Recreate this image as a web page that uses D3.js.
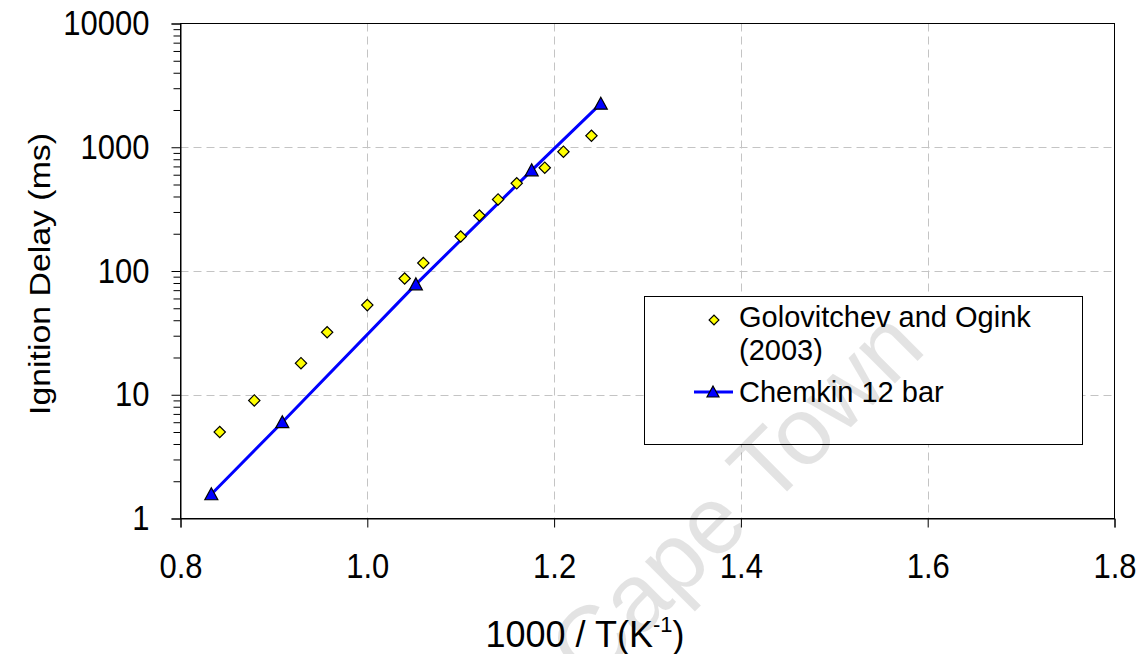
<!DOCTYPE html>
<html>
<head>
<meta charset="utf-8">
<script src="https://cdn.jsdelivr.net/npm/d3@7"></script>
<style>
  body { margin: 0; background: #fff; }
  svg { display: block; font-family: "Liberation Sans", Arial, sans-serif; }
</style>
</head>
<body>
<svg id="chart" width="1143" height="654"></svg>
<script>
// Golovitchev and Ogink (2003) measurements
const golovX = [0.842, 0.879, 0.929, 0.957, 1.000, 1.040, 1.060, 1.100, 1.120, 1.140, 1.160, 1.190, 1.210, 1.240];
const golovY = [5.0, 9.0, 18, 32, 53, 87, 116, 190, 281, 379, 511, 684, 921, 1240];

// Chemkin 12 bar simulation
const chemX = [0.833, 0.909, 1.052, 1.176, 1.250];
const chemY = [1.57, 6.0, 78, 651, 2250];

// axis ticks
const xTicks = [0.8, 1.0, 1.2, 1.4, 1.6, 1.8];
const yTicks = [1, 10, 100, 1000, 10000];
const legendLabels = [["Golovitchev and Ogink", "(2003)"], ["Chemkin 12 bar"]];

const svg = d3.select("#chart");

const x = d3.scaleLinear().domain([0.8, 1.8]).range([180.5, 1114.5]);
const y = d3.scaleLog().domain([1, 10000]).range([518.5, 23.5]);

// minor log ticks 2..9 in each decade
const yMinor = [];
for (let k = 0; k < 4; k++) for (let m = 2; m <= 9; m++) yMinor.push(m * Math.pow(10, k));

// grid
const grid = svg.append("g").attr("stroke", "#c4c4c4").attr("stroke-dasharray", "8,5").attr("stroke-width", 1);
grid.selectAll(".gx").data(xTicks.slice(1, -1)).join("line")
  .attr("x1", d => Math.round(x(d)) + 0.5).attr("x2", d => Math.round(x(d)) + 0.5)
  .attr("y1", y(10000)).attr("y2", y(1));
grid.selectAll(".gy").data(yTicks.slice(1, -1)).join("line")
  .attr("y1", d => Math.round(y(d)) + 0.5).attr("y2", d => Math.round(y(d)) + 0.5)
  .attr("x1", x(0.8)).attr("x2", x(1.8));

// plot border
svg.append("rect")
  .attr("x", x(0.8)).attr("y", y(10000))
  .attr("width", x(1.8) - x(0.8)).attr("height", y(1) - y(10000))
  .attr("fill", "none").attr("stroke", "#000");

// axes
const yAxisMinor = d3.axisLeft(y).tickValues(yMinor).tickSize(7).tickFormat("");
svg.append("g").attr("transform", `translate(${x(0.8)},0)`).call(yAxisMinor)
  .call(g => g.select(".domain").remove());

// tick labels in the source are a bit taller than wide
const yAxis = d3.axisLeft(y).tickValues(yTicks).tickSize(9).tickPadding(22).tickFormat(d3.format("d"));
svg.append("g").attr("transform", `translate(${x(0.8)},0)`).call(yAxis)
  .call(g => g.select(".domain").attr("stroke", "#000"))
  .call(g => g.selectAll("text").attr("font-size", 31).attr("fill", "#000").attr("font-family", null)
    .attr("transform", "scale(1,1.12)"));

const xAxis = d3.axisBottom(x).tickValues(xTicks).tickSize(9).tickPadding(22).tickFormat(d3.format(".1f"));
svg.append("g").attr("transform", `translate(0,${y(1)})`).call(xAxis)
  .call(g => g.select(".domain").attr("stroke", "#000"))
  .call(g => g.selectAll("text").attr("font-size", 31).attr("fill", "#000").attr("font-family", null)
    .attr("transform", "scale(1,1.12)"));

// axis titles
svg.append("text")
  .attr("transform", "translate(50,274) rotate(-90)")
  .attr("text-anchor", "middle")
  .attr("font-size", 29)
  .attr("textLength", 282).attr("lengthAdjust", "spacingAndGlyphs")
  .text("Ignition Delay (ms)");

const xt = svg.append("text")
  .attr("x", 585).attr("y", 647)
  .attr("text-anchor", "middle")
  .attr("font-size", 36);
xt.append("tspan").text("1000 / T(K");
xt.append("tspan").attr("font-size", 22).attr("dy", -15).text("-1");
xt.append("tspan").attr("dy", 15).text(")");

// Chemkin line + triangles
const line = d3.line().x((d, i) => x(chemX[i])).y(d => y(d));
svg.append("path").datum(chemY)
  .attr("d", line)
  .attr("fill", "none").attr("stroke", "#0000ff").attr("stroke-width", 3);

const triPath = "M0,-6.5L6.5,5.5L-6.5,5.5Z";
svg.append("g").selectAll("path").data(chemY).join("path")
  .attr("transform", (d, i) => `translate(${x(chemX[i])},${y(d)})`)
  .attr("d", triPath)
  .attr("fill", "#0000ff").attr("stroke", "#000").attr("stroke-width", 1.2);

// Golovitchev diamonds
const diamond = d3.symbol(d3.symbolSquare, 64)();
svg.append("g").selectAll("path").data(golovY).join("path")
  .attr("transform", (d, i) => `translate(${x(golovX[i])},${y(d)}) rotate(45)`)
  .attr("d", diamond)
  .attr("fill", "#ffff00").attr("stroke", "#000").attr("stroke-width", 1.2);

// legend
const lg = svg.append("g");
lg.append("rect").attr("x", 644.5).attr("y", 296.5).attr("width", 438).attr("height", 148)
  .attr("fill", "#fff").attr("stroke", "#000");
lg.append("path").attr("transform", "translate(714,320) rotate(45)")
  .attr("d", d3.symbol(d3.symbolSquare, 48)())
  .attr("fill", "#ffff00").attr("stroke", "#000").attr("stroke-width", 1.2);
lg.append("line").attr("x1", 694).attr("x2", 733).attr("y1", 392).attr("y2", 392)
  .attr("stroke", "#0000ff").attr("stroke-width", 3);
lg.append("path").attr("transform", "translate(713,392)").attr("d", "M0,-6L6,5L-6,5Z")
  .attr("fill", "#0000ff").attr("stroke", "#000").attr("stroke-width", 1.2);
const lt = lg.append("g").attr("font-size", 29).attr("fill", "#000");
lt.append("text").attr("x", 739).attr("y", 327).text(legendLabels[0][0]);
lt.append("text").attr("x", 739).attr("y", 360).text(legendLabels[0][1]);
lt.append("text").attr("x", 739).attr("y", 402).text(legendLabels[1][0]);

// faint watermark
svg.append("text")
  .attr("transform", "translate(735,496) rotate(-45)")
  .attr("text-anchor", "middle").attr("dominant-baseline", "central")
  .attr("font-size", 96).attr("fill", "#000").attr("fill-opacity", 0.11)
  .text("Cape Town");
</script>
</body>
</html>
